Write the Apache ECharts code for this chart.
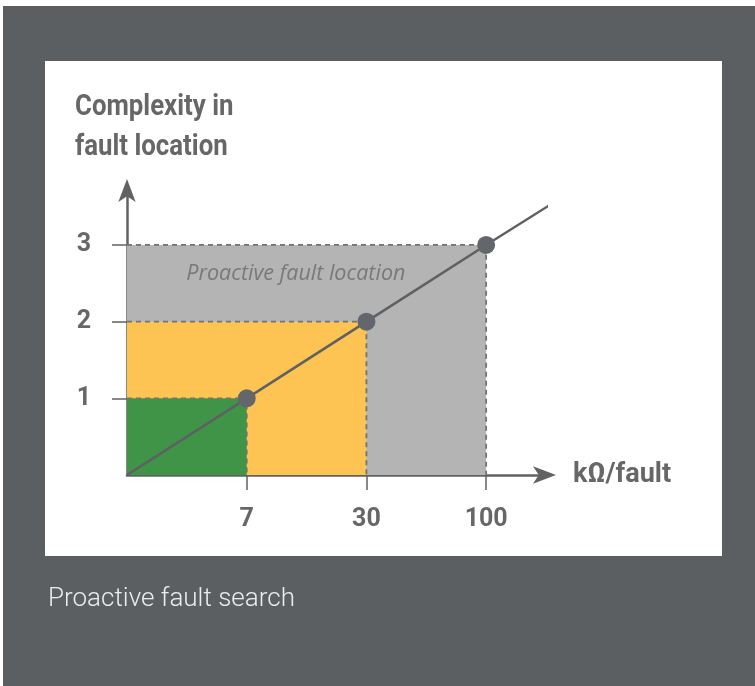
<!DOCTYPE html>
<html>
<head>
<meta charset="utf-8">
<script src="https://cdn.jsdelivr.net/npm/echarts@6/dist/echarts.min.js"></script>
<style>
  html, body { margin: 0; padding: 0; background: #ffffff; }
  #dark { position: absolute; left: 3px; top: 6px; width: 752px; height: 680px; background: #5b5f62; }
  #white { position: absolute; left: 45px; top: 61px; width: 677px; height: 495px; background: #ffffff; }
  #chart { position: absolute; left: 0; top: 0; width: 755px; height: 686px; }
</style>
</head>
<body>
<div id="dark"></div>
<div id="white"></div>
<div id="chart"></div>
<script>
// ---- data ----
var xTickLabels = ['7', '30', '100'];          // kΩ/fault categories (positions 1,2,3)
var xPositions = [1, 2, 3];
var yLevels = [1, 2, 3];                        // complexity levels
var levelColors = ['#3f9447', '#fdc453', '#b4b4b4'];
var lineX = [0, 1, 2, 3, 3.53];                 // straight trend line incl. extension
var lineY = [0, 1, 2, 3, 3.52];
var axisTitleY = 'Complexity in\nfault location';
var axisTitleX = 'kΩ/fault';
var regionLabel = 'Proactive fault location';
var caption = 'Proactive fault search';

var FONT_C = 'Roboto, "Liberation Sans", sans-serif';
var TXT = '#676767';

var rectData = [];
for (var i = xPositions.length - 1; i >= 0; i--) {
  rectData.push([xPositions[i], yLevels[i], i]);
}
var lineData = lineX.map(function (x, i) { return [x, lineY[i]]; });
var pointData = xPositions.map(function (x, i) { return [x, yLevels[i]]; });

var chart = echarts.init(document.getElementById('chart'), null, { renderer: 'canvas' });
chart.setOption({
  backgroundColor: 'transparent',
  animation: false,
  grid: { left: 127, top: 189, width: 419, height: 286, containLabel: false },
  xAxis: {
    type: 'value', min: 0, max: 3.5,
    name: axisTitleX, nameLocation: 'end', nameGap: 27,
    nameTextStyle: { fontFamily: FONT_C, fontWeight: 'bold', fontSize: 27, color: TXT, verticalAlign: 'middle' },
    splitLine: { show: false },
    axisLine: { lineStyle: { color: '#626262', width: 2.5 }, symbol: ['none', 'arrow'], symbolSize: [13, 23], symbolOffset: [0, 10] },
    axisTick: { show: true, inside: false, length: 15, lineStyle: { color: '#626262', width: 1.5 }, customValues: xPositions },
    axisLabel: {
      customValues: xPositions, margin: 32,
      fontFamily: FONT_C, fontWeight: 'bold', fontSize: 25, color: TXT,
      formatter: function (v) { var k = xPositions.indexOf(v); return k >= 0 ? xTickLabels[k] : ''; }
    }
  },
  yAxis: {
    type: 'value', min: 0, max: 3.73,
    splitLine: { show: false },
    axisLine: { lineStyle: { color: '#626262', width: 2.5 }, symbol: ['none', 'arrow'], symbolSize: [13, 23], symbolOffset: [0, 10] },
    axisTick: { show: true, inside: false, length: 15, lineStyle: { color: '#626262', width: 1.5 }, customValues: yLevels },
    axisLabel: {
      customValues: yLevels, margin: 36,
      fontFamily: FONT_C, fontWeight: 'bold', fontSize: 25, color: TXT
    }
  },
  graphic: [{
    type: 'text', x: 75, y: 87, scaleX: 0.86, z: 10,
    style: { text: axisTitleY, fill: TXT, font: 'bold 30px Roboto, "Liberation Sans", sans-serif', lineHeight: 40 }
  }, {
    type: 'text', x: 48, y: 586, z: 10,
    style: { text: caption, fill: '#ececec', font: '300 26px Roboto, "Liberation Sans", sans-serif' }
  }],
  series: [{
    type: 'custom',
    z: 1,
    data: rectData,
    renderItem: function (params, api) {
      var o = api.coord([0, 0]);
      var p = api.coord([api.value(0), api.value(1)]);
      var color = levelColors[api.value(2)];
      return {
        type: 'group',
        children: [{
          type: 'rect',
          shape: { x: o[0], y: p[1], width: p[0] - o[0], height: o[1] - p[1] },
          style: { fill: color }
        }, {
          type: 'polyline',
          shape: { points: [[o[0], p[1]], [p[0], p[1]], [p[0], o[1]]] },
          style: { stroke: '#737373', lineWidth: 1.8, lineDash: [5, 4], fill: null }
        }]
      };
    }
  }, {
    type: 'line',
    z: 3,
    data: lineData,
    clip: false,
    symbol: 'none',
    lineStyle: { color: '#5f6062', width: 2.5 },
    markPoint: {
      symbol: 'circle', symbolSize: 18,
      itemStyle: { color: '#63676b' },
      label: { show: false },
      data: pointData.map(function (d) { return { coord: d }; })
    }
  }, {
    type: 'scatter',
    z: 2,
    data: [[1.41, 2.62]],
    symbolSize: 0,
    label: {
      show: true, position: 'inside', formatter: regionLabel,
      fontFamily: '"Open Sans", sans-serif', fontStyle: 'italic', fontSize: 21.5, color: '#6a6a6a'
    }
  }]
});
</script>
</body>
</html>
